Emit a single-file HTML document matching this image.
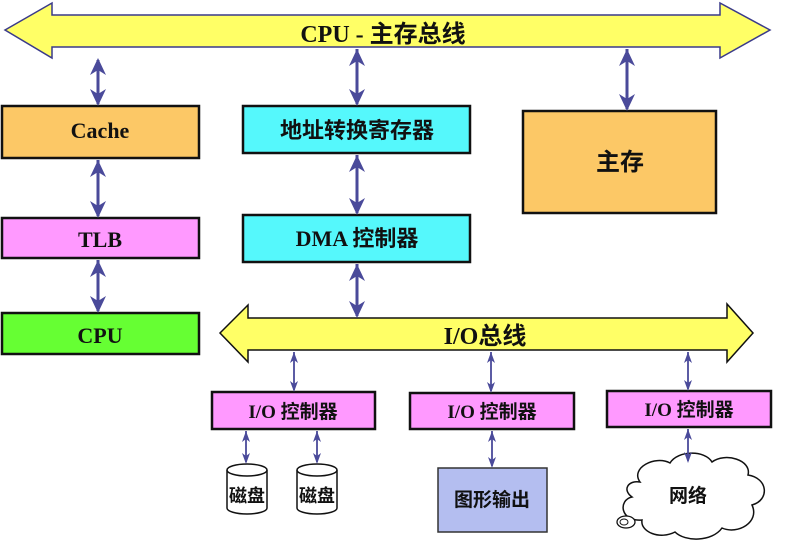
<!DOCTYPE html>
<html><head><meta charset="utf-8"><style>
html,body{margin:0;padding:0;background:#fff}
svg{display:block}
text{font-family:"Liberation Serif","Noto Sans CJK SC",serif;font-weight:bold;fill:#111}
.z{font-family:"Liberation Sans","Noto Sans CJK SC",sans-serif}
</style></head><body>
<svg width="800" height="540" viewBox="0 0 800 540" xmlns="http://www.w3.org/2000/svg">
<defs>
<g id="ba"><line x1="0" y1="4" x2="0" y2="-4" stroke="#4a4a9a" stroke-width="3"/></g>
</defs>
<!-- top bus -->
<polygon points="5,30 52,3 52,15 720,15 720,3 770,30 720,58 720,47 52,47 52,58" fill="#ffff66" stroke="#3a3a8a" stroke-width="1.5"/>
<text x="383" y="42" font-size="24" text-anchor="middle">CPU - <tspan class="z">主存总线</tspan></text>
<!-- io bus -->
<polygon points="220,333 248,305 248,318 727,318 727,304 753,333 727,362 727,350 248,350 248,362" fill="#ffff66" stroke="#111" stroke-width="1.5"/>
<text x="485" y="344" font-size="24" text-anchor="middle">I/O<tspan class="z">总线</tspan></text>

<!-- boxes -->
<g stroke="#111" stroke-width="2.5">
<rect x="2" y="106" width="197" height="52" fill="#fcc866"/>
<rect x="2" y="218" width="197" height="40" fill="#ff99ff"/>
<rect x="2" y="313" width="197" height="41" fill="#66ff33"/>
<rect x="243" y="106" width="227" height="47" fill="#55f8fc"/>
<rect x="243" y="215" width="227" height="47" fill="#55f8fc"/>
<rect x="523" y="111" width="193" height="102" fill="#fcc866"/>
<rect x="212" y="392" width="163" height="37" fill="#ff99ff"/>
<rect x="410" y="393" width="164" height="36" fill="#ff99ff"/>
<rect x="607" y="391" width="164" height="36" fill="#ff99ff"/>
</g>
<rect x="438" y="468" width="109" height="64" fill="#b4bef0" stroke="#333" stroke-width="1.5"/>
<text x="100" y="138" font-size="22" text-anchor="middle">Cache</text>
<text x="100" y="247" font-size="22" text-anchor="middle">TLB</text>
<text x="100" y="343" font-size="22" text-anchor="middle">CPU</text>
<text class="z" x="357" y="138" font-size="22" text-anchor="middle">地址转换寄存器</text>
<text x="357" y="246" font-size="22" text-anchor="middle">DMA <tspan class="z">控制器</tspan></text>
<text class="z" x="620" y="170" font-size="24" text-anchor="middle">主存</text>
<text x="293" y="418" font-size="19" text-anchor="middle">I/O <tspan class="z">控制器</tspan></text>
<text x="492" y="418" font-size="19" text-anchor="middle">I/O <tspan class="z">控制器</tspan></text>
<text x="689" y="416" font-size="19" text-anchor="middle">I/O <tspan class="z">控制器</tspan></text>
<text class="z" x="492" y="506" font-size="19" text-anchor="middle">图形输出</text>

<!-- disks -->
<g fill="#fff" stroke="#111" stroke-width="1.5">
<path d="M227,470 v38 a20,6 0 0 0 40,0 v-38"/>
<ellipse cx="247" cy="470" rx="20" ry="6"/>
<path d="M297,470 v38 a20,6 0 0 0 40,0 v-38"/>
<ellipse cx="317" cy="470" rx="20" ry="6"/>
</g>
<text class="z" x="247" y="502" font-size="18" text-anchor="middle">磁盘</text>
<text class="z" x="317" y="502" font-size="18" text-anchor="middle">磁盘</text>

<!-- cloud -->
<path d="M640,482 C630,468 655,455 670,463 C678,450 705,450 712,462 C725,452 752,460 748,475 C768,478 770,500 752,505 C760,522 738,535 722,528 C712,542 685,542 675,532 C660,540 640,532 642,520 C620,522 618,500 632,497 C622,490 628,480 640,482 Z" fill="#fff" stroke="#111" stroke-width="1.5"/>
<ellipse cx="626" cy="522" rx="9" ry="6" fill="#fff" stroke="#111" stroke-width="1.3"/>
<ellipse cx="624" cy="522" rx="4" ry="3" fill="none" stroke="#111" stroke-width="1"/>
<text class="z" x="688" y="502" font-size="19" text-anchor="middle">网络</text>

<!-- big double arrows -->
<g fill="#4a4a9a" stroke="#4a4a9a">
<g stroke-width="3">
<line x1="98" y1="60" x2="98" y2="104"/><line x1="98" y1="160" x2="98" y2="216"/><line x1="98" y1="260" x2="98" y2="311"/>
<line x1="357" y1="49" x2="357" y2="104"/><line x1="357" y1="155" x2="357" y2="213"/><line x1="357" y1="264" x2="357" y2="316"/>
<line x1="627" y1="49" x2="627" y2="109"/>
</g>
<g stroke-width="0">
<path d="M98,58 l-8,17 l8,-5 l8,5z M98,106 l-8,-17 l8,5 l8,-5z"/>
<path d="M98,160 l-8,17 l8,-5 l8,5z M98,218 l-8,-17 l8,5 l8,-5z"/>
<path d="M98,260 l-8,17 l8,-5 l8,5z M98,313 l-8,-17 l8,5 l8,-5z"/>
<path d="M357,49 l-8,17 l8,-5 l8,5z M357,106 l-8,-17 l8,5 l8,-5z"/>
<path d="M357,155 l-8,17 l8,-5 l8,5z M357,215 l-8,-17 l8,5 l8,-5z"/>
<path d="M357,264 l-8,17 l8,-5 l8,5z M357,318 l-8,-17 l8,5 l8,-5z"/>
<path d="M627,49 l-8,17 l8,-5 l8,5z M627,111 l-8,-17 l8,5 l8,-5z"/>
</g>
<g stroke-width="1.8">
<line x1="294" y1="352" x2="294" y2="390"/><line x1="491" y1="352" x2="491" y2="391"/><line x1="688" y1="352" x2="688" y2="389"/>
<line x1="246" y1="431" x2="246" y2="462"/><line x1="317" y1="431" x2="317" y2="462"/>
<line x1="492" y1="431" x2="492" y2="466"/><line x1="688" y1="429" x2="688" y2="461"/>
</g>
<g stroke-width="0">
<path d="M294,352 l-4,11 l4,-3 l4,3z M294,392 l-4,-11 l4,3 l4,-3z"/>
<path d="M491,352 l-4,11 l4,-3 l4,3z M491,393 l-4,-11 l4,3 l4,-3z"/>
<path d="M688,352 l-4,11 l4,-3 l4,3z M688,391 l-4,-11 l4,3 l4,-3z"/>
<path d="M246,431 l-4,11 l4,-3 l4,3z M246,464 l-4,-11 l4,3 l4,-3z"/>
<path d="M317,431 l-4,11 l4,-3 l4,3z M317,464 l-4,-11 l4,3 l4,-3z"/>
<path d="M492,431 l-4,11 l4,-3 l4,3z M492,468 l-4,-11 l4,3 l4,-3z"/>
<path d="M688,429 l-4,11 l4,-3 l4,3z M688,463 l-4,-11 l4,3 l4,-3z"/>
</g>
</g>
</svg>
</body></html>
